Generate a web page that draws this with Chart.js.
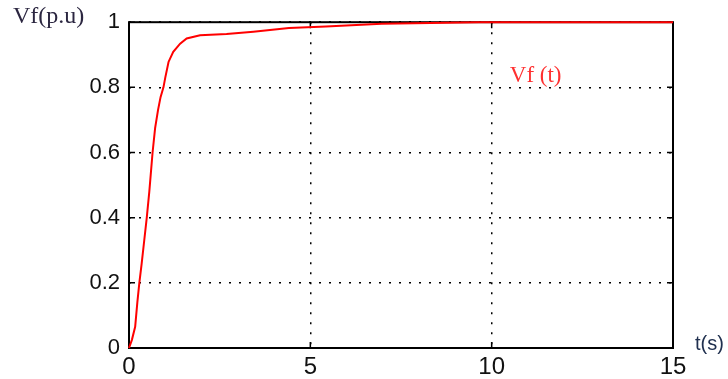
<!DOCTYPE html>
<html>
<head>
<meta charset="utf-8">
<script src="https://cdn.jsdelivr.net/npm/chart.js@4/dist/chart.umd.min.js"></script>
<style>
  html, body { margin: 0; padding: 0; background: #ffffff; }
  #wrap { width: 728px; height: 379px; position: relative; }
</style>
</head>
<body>
<div id="wrap"><canvas id="c" width="728" height="379"></canvas></div>
<script>
// Time samples (s) and field voltage response Vf (p.u)
const timeS = [0, 0.08, 0.17, 0.23, 0.285, 0.35, 0.42, 0.49, 0.56, 0.65, 0.72, 0.8, 0.87, 0.95, 1.0, 1.09, 1.22, 1.41, 1.59, 1.96, 2.69, 3.43, 4.41, 5.43, 6.97, 9.65, 15];
const vfPu  = [0, 0.025, 0.065, 0.14, 0.2, 0.26, 0.33, 0.4, 0.48, 0.6, 0.675, 0.73, 0.77, 0.8, 0.83, 0.878, 0.909, 0.934, 0.95, 0.96, 0.964, 0.971, 0.982, 0.987, 0.995, 1.0, 1.0];

// Axis ticks and their printed labels
const xTicks = [0, 5, 10, 15];
const yTicks = [0, 0.2, 0.4, 0.6, 0.8, 1];
const yTickLabels = ['0', '0.2', '0.4', '0.6', '0.8', '1'];

// Text
const yTitle = 'Vf(p.u)';
const xTitle = 't(s)';
const seriesLabel = 'Vf (t)';
const seriesLabelAt = { t: 10.5, v: 0.817 };

const points = timeS.map((t, i) => ({ x: t, y: vfPu[i] }));

// Boxed frame with inward tick marks, drawn under the curve
const framePlugin = {
  id: 'frame',
  beforeDatasetsDraw(chart) {
    const { ctx, chartArea: a, scales } = chart;
    const len = 6;
    ctx.save();
    ctx.strokeStyle = '#000';
    ctx.lineWidth = 1.5;
    ctx.beginPath();
    xTicks.forEach(v => {
      const px = scales.x.getPixelForValue(v);
      ctx.moveTo(px, a.bottom); ctx.lineTo(px, a.bottom - len);
      ctx.moveTo(px, a.top); ctx.lineTo(px, a.top + len);
    });
    yTicks.forEach(v => {
      const py = scales.y.getPixelForValue(v);
      ctx.moveTo(a.left, py); ctx.lineTo(a.left + len, py);
      ctx.moveTo(a.right, py); ctx.lineTo(a.right - len, py);
    });
    ctx.stroke();
    ctx.lineWidth = 2;
    ctx.strokeRect(a.left, a.top, a.right - a.left, a.bottom - a.top);
    ctx.restore();
  }
};

// Axis titles and series label
const textPlugin = {
  id: 'texts',
  afterDraw(chart) {
    const { ctx, chartArea: a, scales } = chart;
    ctx.save();
    ctx.textBaseline = 'alphabetic';
    ctx.textAlign = 'left';
    ctx.font = '24px "Liberation Serif", "Times New Roman", serif';
    ctx.fillStyle = '#2b2640';
    ctx.fillText(yTitle, 13, 23);

    ctx.font = '20px "Liberation Sans", Arial, sans-serif';
    ctx.fillStyle = '#20304f';
    ctx.fillText(xTitle, a.right + 22, a.bottom + 2);

    ctx.font = '23px "Liberation Serif", "Times New Roman", serif';
    ctx.fillStyle = '#ff3030';
    ctx.fillText(seriesLabel, scales.x.getPixelForValue(seriesLabelAt.t), scales.y.getPixelForValue(seriesLabelAt.v));
    ctx.restore();
  }
};

const dotted = {
  display: true,
  color: '#000',
  lineWidth: 1.5,
  drawTicks: false
};

new Chart(document.getElementById('c'), {
  type: 'line',
  data: {
    datasets: [{
      data: points,
      borderColor: '#ff0000',
      borderWidth: 2,
      pointRadius: 0,
      tension: 0,
      fill: false,
      clip: false
    }]
  },
  options: {
    responsive: false,
    animation: false,
    devicePixelRatio: 1,
    layout: { padding: { left: 0, right: 55, top: 20, bottom: 0 } },
    plugins: { legend: { display: false }, tooltip: { enabled: false } },
    scales: {
      x: {
        type: 'linear',
        min: 0, max: 15,
        afterFit(s) { s.height = 31; },
        afterBuildTicks(s) { s.ticks = xTicks.map(v => ({ value: v })); },
        grid: dotted,
        border: { display: false, dash: [2, 8] },
        ticks: {
          color: '#111',
          padding: 5,
          maxRotation: 0,
          font: { family: '"Liberation Sans", Arial, sans-serif', size: 24 }
        }
      },
      y: {
        min: 0, max: 1,
        afterFit(s) { s.width = 129; },
        afterBuildTicks(s) { s.ticks = yTicks.map(v => ({ value: v })); },
        grid: dotted,
        border: { display: false, dash: [2, 8] },
        ticks: {
          color: '#111',
          padding: 9,
          callback: (value) => yTickLabels[yTicks.indexOf(value)] ?? String(value),
          font: { family: '"Liberation Sans", Arial, sans-serif', size: 22 }
        }
      }
    }
  },
  plugins: [framePlugin, textPlugin]
});
</script>
</body>
</html>
